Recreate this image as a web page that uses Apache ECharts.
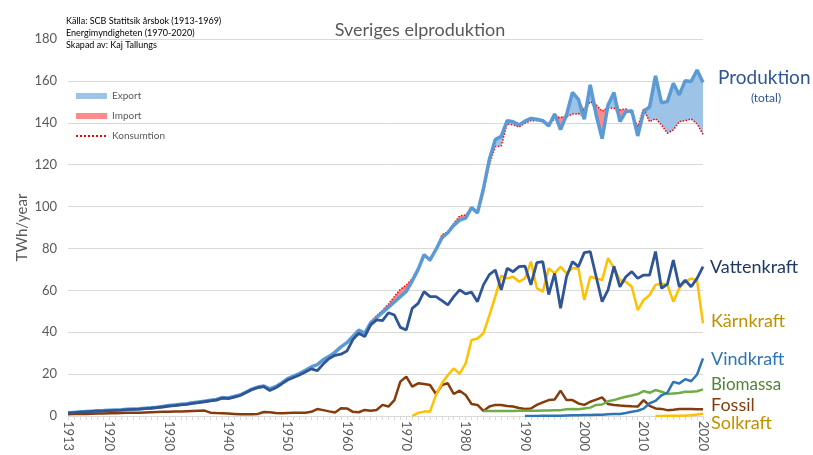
<!DOCTYPE html>
<html>
<head>
<meta charset="utf-8">
<script src="https://cdn.jsdelivr.net/npm/echarts@6/dist/echarts.min.js"></script>
<style>
html, body { margin: 0; padding: 0; background: #fff; }
#chart { width: 813px; height: 455px; }
</style>
</head>
<body>
<div id="chart"></div>
<script>
const firstYear = 1913
const lastYear = 2020
const years = []
for (let y = firstYear; y <= lastYear; y++) years.push(String(y))

// TWh/year, 1913-2020
const produktion = [
  1.5, 1.7, 1.9, 2.1, 2.3, 2.5, 2.6,
  2.8, 2.9, 3.0, 3.2, 3.4, 3.5, 3.7, 3.9, 4.2, 4.6,
  5.0, 5.3, 5.6, 5.9, 6.3, 6.7, 7.1, 7.5, 7.9, 8.8,
  8.6, 9.3, 10.0, 11.4, 12.8, 13.8, 14.3, 13.0, 14.0, 15.8,
  17.8, 19.0, 20.3, 21.8, 23.4, 24.5, 26.8, 28.5, 30.5, 33.0,
  35.0, 38.0, 41.0, 39.5, 44.5, 47.0, 49.5, 52.0, 54.5, 57.0,
  59.5, 64.5, 70.0, 77.0, 74.5, 79.5, 85.0, 87.5, 91.0, 93.5,
  94.5, 99.5, 97.0, 108.5, 122.5, 132.0, 133.5, 141.0, 140.5, 139.0,
  140.8, 142.1, 141.7, 141.0, 138.5, 144.2, 136.7, 143.7, 154.5, 151.2,
  141.7, 158.1, 143.7, 132.4, 148.5, 154.4, 140.6, 145.3, 145.8, 133.7,
  145.3, 147.6, 162.4, 149.6, 150.1, 158.9, 153.3, 160.1, 159.7, 165.2,
  159.2
]
const vattenkraft = [
  1.4, 1.6, 1.8, 2.0, 2.2, 2.3, 2.4,
  2.6, 2.7, 2.8, 3.0, 3.2, 3.3, 3.5, 3.7, 4.0, 4.3,
  4.7, 5.0, 5.3, 5.6, 6.0, 6.4, 6.8, 7.2, 7.6, 8.5,
  8.3, 9.0, 9.8, 11.2, 12.6, 13.6, 14.0, 12.2, 13.5, 15.3,
  17.2, 18.4, 19.6, 21.0, 22.5, 21.6, 24.8, 27.5, 29.0, 29.5,
  31.0, 36.5, 39.5, 37.9, 43.5, 45.9, 45.5, 49.3, 48.2, 42.3,
  41.1, 51.4, 53.8, 59.4, 57.0, 57.0, 55.1, 53.0, 57.0, 60.2,
  58.3, 59.1, 54.6, 62.6, 67.5, 69.7, 60.2, 70.5, 68.9, 71.3,
  71.6, 62.6, 73.2, 73.7, 58.0, 68.1, 51.4, 66.5, 73.7, 71.3,
  78.0, 78.5, 66.5, 54.6, 60.2, 71.5, 61.7, 66.5, 68.9, 65.7,
  67.3, 67.3, 78.5, 61.0, 63.0, 74.5, 61.7, 64.9, 61.7, 65.7,
  71.3
]
const fossil = [
  0.8, 0.9, 1.0, 1.0, 1.1, 1.2, 1.2,
  1.3, 1.3, 1.4, 1.5, 1.6, 1.6, 1.7, 1.8, 1.9, 2.0,
  2.0, 2.1, 2.2, 2.3, 2.4, 2.5, 2.6, 1.6, 1.4, 1.3,
  1.2, 1.0, 0.8, 0.8, 0.8, 1.0, 1.9, 1.8, 1.4, 1.3,
  1.4, 1.5, 1.5, 1.6, 2.0, 3.3, 2.8, 2.2, 1.7, 3.7,
  3.6, 2.0, 1.8, 2.9, 2.5, 2.9, 5.3, 4.5, 7.6, 16.4,
  18.8, 14.0, 15.6, 15.3, 14.8, 10.5, 14.8, 15.6, 10.5, 12.1,
  10.0, 5.7, 5.3, 2.4, 4.5, 5.3, 5.3, 4.8, 4.5, 3.8,
  3.3, 3.6, 5.3, 6.5, 7.6, 7.9, 12.1, 7.6, 7.6, 6.0,
  5.3, 6.8, 7.8, 8.9, 5.7, 5.3, 5.0, 4.8, 4.6, 4.5,
  7.6, 4.8, 3.6, 3.4, 2.8, 3.0, 3.3, 3.3, 3.3, 3.2,
  3.2
]
// later series start at their own first year
const konsumtionStart = 1960
const konsumtion = [
  35.0, 38.0, 41.0, 40.0, 45.0, 48.0, 50.5, 53.5, 57.0, 60.5,
  62.5, 65.5, 70.5, 76.5, 74.0, 79.0, 86.5, 88.0, 92.0, 95.5,
  96.0, 99.0, 97.5, 106.5, 120.0, 128.5, 129.0, 139.5, 139.0, 138.0,
  139.8, 141.0, 141.0, 140.5, 139.8, 141.8, 142.6, 142.8, 144.2, 144.2,
  146.6, 150.1, 148.5, 145.5, 146.9, 147.0, 146.1, 146.6, 144.5, 138.2,
  146.8, 140.5, 142.0, 139.0, 135.0, 136.6, 140.6, 141.0, 141.8, 139.5,
  134.5
]
const karnkraftStart = 1971
const karnkraft = [
  0.0, 1.5, 2.1, 2.1, 10.0, 15.6, 19.5, 22.7, 20.2,
  25.0, 36.3, 37.0, 39.5, 48.0, 57.0, 67.0, 65.7, 66.5, 64.1,
  65.7, 73.7, 61.0, 59.4, 70.5, 68.1, 71.3, 68.1, 70.5, 70.5,
  55.4, 66.5, 65.7, 64.9, 75.4, 70.5, 64.9, 64.1, 61.7, 50.6,
  55.4, 57.8, 62.6, 63.3, 62.6, 54.6, 61.0, 64.1, 65.7, 64.6,
  44.2
]
const biomassaStart = 1983
const biomassa = [
  2.4, 2.4, 2.4, 2.4, 2.4, 2.4, 2.5,
  2.5, 2.5, 2.5, 2.6, 2.6, 2.7, 2.8, 3.2, 3.3, 3.2,
  3.6, 4.0, 5.3, 5.5, 7.0, 7.6, 8.5, 9.2, 9.8, 10.5,
  11.9, 11.1, 12.4, 11.6, 10.5, 10.8, 11.0, 11.6, 11.6, 11.8,
  12.7
]
const vindkraftStart = 1990
const vindkraft = [
  0.0, 0.0, 0.0, 0.1, 0.1, 0.1, 0.1, 0.2, 0.3, 0.4,
  0.5, 0.5, 0.6, 0.6, 0.8, 0.9, 1.0, 1.4, 2.0, 2.5,
  3.5, 6.1, 7.2, 9.9, 11.2, 16.3, 15.5, 17.6, 16.6, 19.8,
  27.5
]
const solkraftStart = 2012
const solkraft = [0.0, 0.0, 0.1, 0.1, 0.1, 0.2, 0.4, 0.7, 1.1]

const pad = (start, arr) => years.map(y => {
  const i = Number(y) - start
  return i >= 0 && i < arr.length ? arr[i] : null
})

const kons = pad(konsumtionStart, konsumtion)
// band between production and consumption: blue where exported, red where imported
const bandBase = years.map((y, i) => kons[i] == null ? null : Math.min(produktion[i], kons[i]))
const exportBand = years.map((y, i) => kons[i] == null ? null : Math.max(produktion[i] - kons[i], 0))
const importBand = years.map((y, i) => kons[i] == null ? null : Math.max(kons[i] - produktion[i], 0))

const FONT = 'Lato, "Open Sans", sans-serif'
const GRAY = '#595959'

const line = (name, data, color, width, z) => ({
  name, type: 'line', data, symbol: 'none', z,
  lineStyle: { color, width },
  itemStyle: { color },
  connectNulls: false
})

const chart = echarts.init(document.getElementById('chart'))
chart.setOption({
  animation: false,
  textStyle: { fontFamily: FONT },
  title: {
    text: 'Sveriges elproduktion',
    left: 415, top: 16, textAlign: 'center',
    textStyle: { fontFamily: FONT, fontSize: 18, fontWeight: 'normal', color: GRAY }
  },
  legend: {
    orient: 'vertical', left: 75, top: 91, itemGap: 10, padding: 0,
    itemWidth: 31, itemHeight: 6,
    textStyle: { fontFamily: FONT, fontSize: 10, color: GRAY },
    data: [
      { name: 'Export', icon: 'rect' },
      { name: 'Import', icon: 'rect' },
      { name: 'Konsumtion', itemStyle: { opacity: 0 } }
    ]
  },
  grid: { left: 68, right: 110, top: 39, bottom: 39 },
  xAxis: {
    type: 'category', data: years, boundaryGap: false,
    axisLine: { lineStyle: { color: '#d9d9d9' } },
    axisTick: { interval: 0, length: 4, lineStyle: { color: '#d9d9d9' } },
    axisLabel: {
      rotate: -90, margin: 5, fontSize: 13, color: GRAY, fontFamily: FONT,
      interval: (i, v) => v === '1913' || Number(v) % 10 === 0
    }
  },
  yAxis: {
    type: 'value', min: 0, max: 180, interval: 20,
    name: 'TWh/year', nameLocation: 'middle', nameRotate: 90, nameGap: 38,
    nameMoveOverlap: false,
    nameTextStyle: { fontFamily: FONT, fontSize: 15, color: GRAY },
    axisLine: { show: false }, axisTick: { show: false },
    axisLabel: { fontSize: 13, color: GRAY, fontFamily: FONT, margin: 11 },
    splitLine: { lineStyle: { color: '#d9d9d9' } }
  },
  series: [
    {
      name: 'band', type: 'line', stack: 'band', data: bandBase, symbol: 'none',
      lineStyle: { opacity: 0 }, areaStyle: { opacity: 0 }, silent: true, z: 1
    },
    {
      name: 'Export', type: 'line', stack: 'band', data: exportBand, symbol: 'none',
      lineStyle: { width: 0 }, itemStyle: { color: '#9dc3e6' },
      areaStyle: { color: '#9dc3e6', opacity: 1 }, z: 1
    },
    {
      name: 'Import', type: 'line', stack: 'band', data: importBand, symbol: 'none',
      lineStyle: { width: 0 }, itemStyle: { color: '#ff8a8a' },
      areaStyle: { color: '#ff8a8a', opacity: 1 }, z: 1
    },
    {
      name: 'Konsumtion', type: 'line', data: kons, symbol: 'none', z: 2,
      lineStyle: { color: '#ff0000', width: 1.5, type: 'dotted' },
      itemStyle: { color: '#ff0000' }
    },
    line('Produktion', produktion, '#5b9bd5', 3.5, 3),
    line('Fossil', fossil, '#843c0c', 2.5, 4),
    line('Biomassa', pad(biomassaStart, biomassa), '#70ad47', 2.5, 4),
    line('Vindkraft', pad(vindkraftStart, vindkraft), '#2e75b6', 2.5, 4),
    line('Solkraft', pad(solkraftStart, solkraft), '#ffc000', 2.5, 4),
    line('Kärnkraft', pad(karnkraftStart, karnkraft), '#ffc000', 2.5, 5),
    line('Vattenkraft', vattenkraft, '#2f5597', 2.8, 5)
  ],
  graphic: [
    {
      type: 'text', left: 66, top: 15,
      style: {
        text: 'Källa: SCB Statitsik årsbok (1913-1969)\nEnergimyndigheten (1970-2020)\nSkapad av: Kaj Tallungs',
        font: '9px ' + FONT, fill: '#000', lineHeight: 12
      }
    },
    { type: 'text', x: 718, y: 78, style: { text: 'Produktion', font: '19px ' + FONT, fill: '#2f5597', verticalAlign: 'middle' } },
    { type: 'text', x: 766, y: 98, style: { text: '(total)', font: '12px ' + FONT, fill: '#2f5597', align: 'center', verticalAlign: 'middle' } },
    { type: 'text', x: 710, y: 267, style: { text: 'Vattenkraft', font: '18px ' + FONT, fill: '#1f3864', verticalAlign: 'middle' } },
    { type: 'text', x: 711, y: 321, style: { text: 'Kärnkraft', font: '18px ' + FONT, fill: '#bf9000', verticalAlign: 'middle' } },
    { type: 'text', x: 711, y: 359, style: { text: 'Vindkraft', font: '18px ' + FONT, fill: '#2e75b6', verticalAlign: 'middle' } },
    { type: 'text', x: 711, y: 385, style: { text: 'Biomassa', font: '17px ' + FONT, fill: '#548235', verticalAlign: 'middle' } },
    { type: 'text', x: 711, y: 405, style: { text: 'Fossil', font: '18px ' + FONT, fill: '#843c0c', verticalAlign: 'middle' } },
    { type: 'text', x: 711, y: 423, style: { text: 'Solkraft', font: '18px ' + FONT, fill: '#bf9000', verticalAlign: 'middle' } }
  ]
})
</script>
</body>
</html>
